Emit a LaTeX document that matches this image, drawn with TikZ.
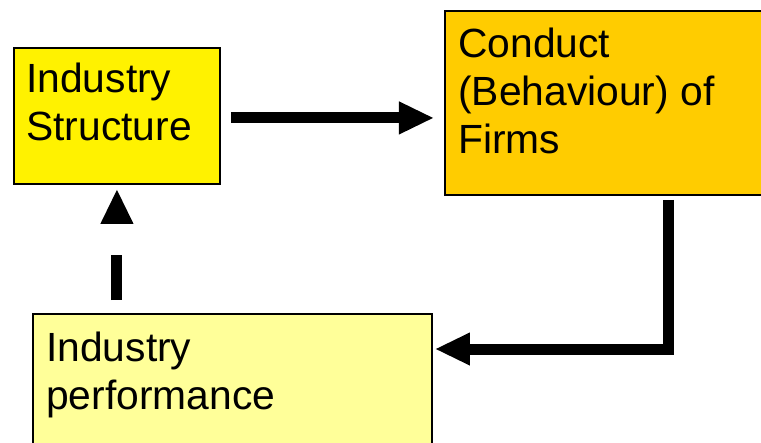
\documentclass[tikz,border=0pt]{standalone}
\usepackage{fontspec}
\setmainfont{Liberation Sans}
\usetikzlibrary{arrows.meta,positioning,calc}

\begin{document}
\begin{tikzpicture}[x=0.025cm, y=-0.025cm,
  box/.style={rectangle, draw=black, line width=1.3pt, inner sep=0pt, anchor=north west},
  txt/.style={anchor=north west, inner sep=0pt, align=left, font=\fontsize{29}{34}\selectfont},
  arr/.style={line width=0.275cm, line join=miter, -{Triangle[length=0.85cm, width=0.83cm, line width=0pt]}},
  dasharr/.style={arr, dash pattern=on 1.125cm off 3cm}]
  \useasboundingbox (0,0) rectangle (761,442);
  \clip (0,0) rectangle (761,442);
  % boxes
  \node[box, fill=yellow, minimum width=5.15cm, minimum height=3.4cm] (struct) at (13,47) {};
  \node[box, draw=none, fill={rgb,255:red,255;green,204;blue,0}, minimum width=11cm, minimum height=4.55cm] (conduct) at (445,11) {};
  \draw[line width=1.3pt] (conduct.north east) -- (conduct.north west) -- (conduct.south west) -- (conduct.south east);
  \node[box, fill={rgb,255:red,255;green,255;blue,153}, minimum width=9.975cm, minimum height=4cm] (perf) at (32,313) {};
  \node[txt] (structtxt) at ($(struct.north west)+(13,16)$) {Industry\\Structure};
  \node[txt] (conducttxt) at ($(conduct.north west)+(13,17)$) {Conduct\\(Behaviour) of\\Firms};
  \node[txt] (perftxt) at ($(perf.north west)+(14,19)$) {Industry\\performance};
  % connectors
  \coordinate (bend) at (668,349);
  \draw[arr, shorten <=0.25cm, shorten >=0.3cm] ($(struct.east)+(0,2)$) -- ($(struct.east -| conduct.west)+(0,2)$);
  \draw[arr, shorten <=0.125cm, shorten >=0.075cm] (conduct.south -| bend) -- (bend) -- (bend -| perf.east);
  \draw[dasharr, shorten <=0.325cm, shorten >=0.125cm] (struct.south |- perf.north) -- (struct.south);
\end{tikzpicture}
\end{document}
